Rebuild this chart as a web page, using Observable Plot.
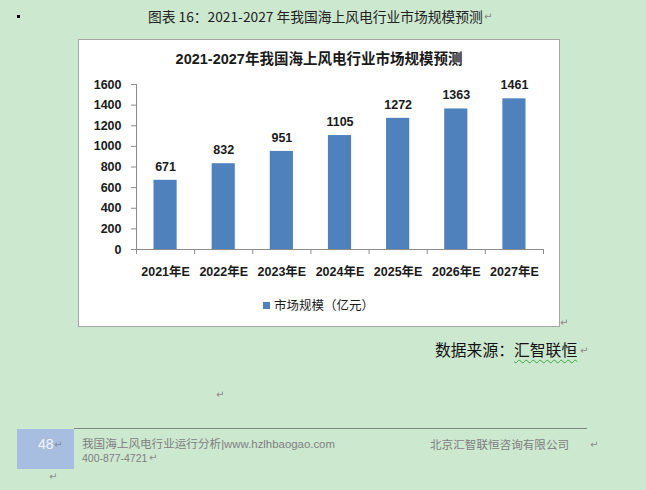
<!DOCTYPE html>
<html>
<head>
<meta charset="utf-8">
<script src="https://cdn.jsdelivr.net/npm/d3@7"></script>
<script src="https://cdn.jsdelivr.net/npm/@observablehq/plot@0.6"></script>
<style>
  html, body { margin: 0; padding: 0; }
  body { width: 646px; height: 490px; overflow: hidden; background: #cce8cf; position: relative;
         font-family: "Noto Sans CJK SC", "Liberation Sans", sans-serif; color: #1a1a1a; }
  .abs { position: absolute; white-space: nowrap; }
  .ret { position: absolute; color: #8a8a8a; font-size: 10px; line-height: 12px; font-family: "DejaVu Sans", sans-serif; }
  #box { position: absolute; left: 78px; top: 39px; width: 480px; height: 286px; background: #fff; border: 1px solid #a6a6a6; }
  #plot { position: absolute; left: 79px; top: 40px; }
  .foot { color: #7f7f7f; font-size: 11.6px; line-height: 12px; }
  .lat { font-family: "Liberation Sans", sans-serif; }
</style>
</head>
<body>
<div class="abs" style="left:17px;top:15px;width:3px;height:3px;background:#000;"></div>
<div class="abs" id="caption" style="left:148px;top:7px;font-size:13.75px;line-height:18px;color:#222;"></div>
<div class="ret" style="left:484px;top:11px;">↵</div>

<div id="box"></div>
<div id="plot"></div>
<div class="abs" id="title" style="left:78px;width:482px;top:49px;text-align:center;font-size:14.5px;line-height:20px;font-weight:bold;font-family:'Liberation Sans','Noto Sans CJK SC',sans-serif;"></div>
<div class="abs" id="legend" style="left:263px;top:297px;font-size:12.5px;line-height:16px;"></div>
<div class="ret" style="left:560px;top:317px;">↵</div>

<div class="abs" id="source" style="left:435px;top:340px;font-size:15.8px;line-height:20px;color:#111;"></div>
<div class="ret" style="left:580px;top:345px;">↵</div>

<div class="ret" style="left:216px;top:389px;">↵</div>

<div class="abs" style="left:74px;top:428px;width:513px;height:1px;background:#7d8a7d;"></div>
<div class="abs" style="left:17px;top:429px;width:57px;height:40px;background:#a8bee0;"></div>
<div class="abs" id="page" style="left:38px;top:436px;font-size:14px;line-height:16px;color:#f4f6fb;font-family:'Liberation Sans',sans-serif;"></div>
<div class="ret" style="left:54px;top:439px;color:#7a8aa8;">↵</div>
<div class="abs foot" id="foot1" style="left:82px;top:437px;"></div>
<div class="abs foot lat" id="foot2" style="left:82px;top:452px;font-size:10.5px;"></div>
<div class="ret" style="left:149px;top:452px;">↵</div>
<div class="abs foot" id="foot3" style="left:430px;top:438px;"></div>
<div class="ret" style="left:590px;top:439px;">↵</div>
<div class="ret" style="left:49px;top:471px;">↵</div>

<script>
const captionText = "图表 16：2021-2027 年我国海上风电行业市场规模预测";
const chartTitle = "2021-2027年我国海上风电行业市场规模预测";
const seriesName = "市场规模（亿元）";
const categories = ["2021年E", "2022年E", "2023年E", "2024年E", "2025年E", "2026年E", "2027年E"];
const values = [671, 832, 951, 1105, 1272, 1363, 1461];
const yTicks = [0, 200, 400, 600, 800, 1000, 1200, 1400, 1600];
const sourcePrefix = "数据来源：";
const sourceName = "汇智联恒";
const pageNumber = "48";
const footerTitle = "我国海上风电行业运行分析";
const footerSite = "|www.hzlhbaogao.com";
const footerPhone = "400-877-4721";
const footerCompany = "北京汇智联恒咨询有限公司";

document.getElementById("caption").innerHTML = captionText.replace(/ /g, "&nbsp;");
document.getElementById("title").textContent = chartTitle;
document.getElementById("legend").innerHTML =
  '<span style="display:inline-block;width:7px;height:7px;background:#4f81bd;margin-right:4px;vertical-align:1px;"></span>' + seriesName;
document.getElementById("source").innerHTML = sourcePrefix +
  '<span style="text-decoration:underline wavy #3fa63f;text-decoration-thickness:1px;text-underline-offset:3px;">' + sourceName + '</span>';
document.getElementById("page").textContent = pageNumber;
document.getElementById("foot1").innerHTML = footerTitle + '<span class="lat" style="font-size:11.4px;">' + footerSite + '</span>';
document.getElementById("foot2").textContent = footerPhone;
document.getElementById("foot3").textContent = footerCompany;

const data = categories.map((c, i) => ({c, i, v: values[i]}));
const axisColor = "#8c8c8c";

const chart = Plot.plot({
  width: 480,
  height: 245,
  marginLeft: 57,
  marginRight: 16,
  marginTop: 44,
  marginBottom: 36,
  x: {type: "linear", domain: [0, categories.length], axis: null},
  y: {domain: [0, 1600], axis: null},
  style: {
    fontFamily: "'Liberation Sans', 'Noto Sans CJK SC', sans-serif",
    fontSize: "12.5px",
    fontWeight: "bold",
    color: "#1a1a1a",
    background: "transparent",
    overflow: "visible"
  },
  marks: [
    Plot.rectY(data, {x1: "i", x2: d => d.i + 1, y: "v", fill: "#4f81bd", insetLeft: 17.5, insetRight: 17.5}),
    Plot.ruleY([0], {stroke: axisColor}),
    Plot.ruleX([0], {stroke: axisColor}),
    Plot.axisY(yTicks, {tickSize: 5, tickPadding: 10, tickFormat: d => String(d), stroke: axisColor, fill: "#1a1a1a", label: null}),
    Plot.axisX(d3.range(categories.length + 1), {tickSize: 5, tickFormat: () => "", stroke: axisColor, label: null}),
    Plot.text(data, {x: d => d.i + 0.5, y: 0, dy: 22, text: "c", fill: "#1a1a1a"}),
    Plot.text(data, {x: d => d.i + 0.5, y: "v", dy: -13.5, text: d => String(d.v), fill: "#1a1a1a"})
  ]
});
document.getElementById("plot").appendChild(chart);
</script>
</body>
</html>
